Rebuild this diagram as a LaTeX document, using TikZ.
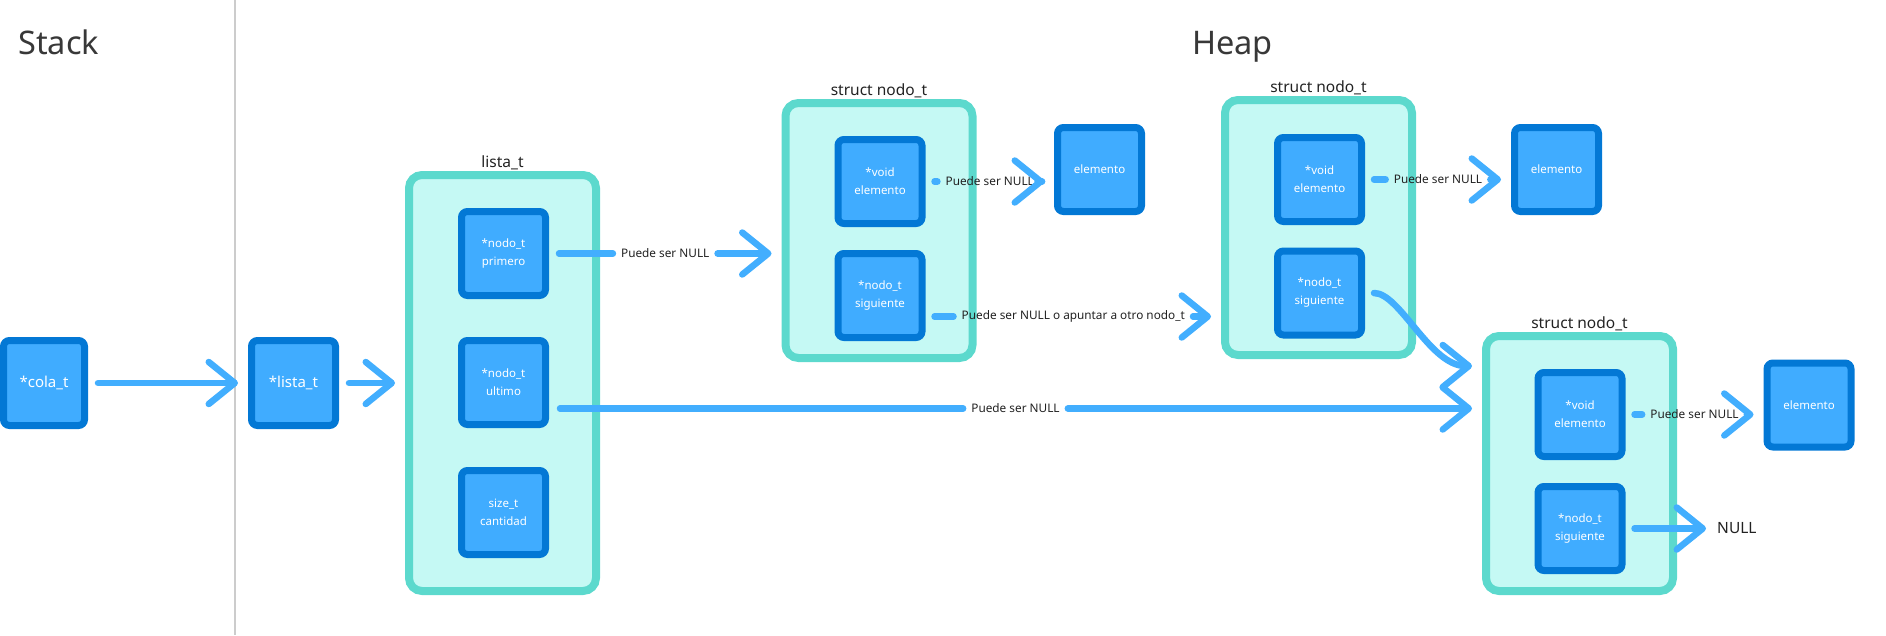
\documentclass[tikz,border=0pt]{standalone}
\usepackage{fontspec}
\setmainfont{Noto Sans}
\usepackage{xcolor}
\usetikzlibrary{arrows.meta,positioning,calc}

\definecolor{fieldborder}{HTML}{0378D5}
\definecolor{fieldfill}{HTML}{40ACFF}
\definecolor{arrowblue}{HTML}{42AEFE}
\definecolor{structborder}{HTML}{5CD9CD}
\definecolor{structfill}{HTML}{C5F9F4}
\definecolor{inktext}{HTML}{222222}

\tikzset{
  field/.style={draw=fieldborder, fill=fieldfill, line width=7pt, rounded corners=6pt,
    text=white, align=center, inner sep=0pt, minimum width=84pt, minimum height=84pt,
    font=\fontsize{11.5}{18}\selectfont},
  structbox/.style={draw=structborder, fill=structfill, line width=8pt, rounded corners=13pt,
    minimum width=187pt, minimum height=255pt},
  title/.style={font=\fontsize{15.5}{18}\selectfont, text=inktext, inner sep=1pt},
  heading/.style={font=\fontsize{32.5}{38}\selectfont, text=inktext!90, inner sep=0pt},
  note/.style={font=\fontsize{11.8}{13}\selectfont, text=inktext, inner xsep=8pt, inner ysep=2pt},
  stub/.style={draw=arrowblue, line width=6.5pt, line cap=round},
  pointer/.style={stub, shorten >=10pt, -{Straight Barb[length=26pt, width=42pt, round]}},
  sepline/.style={draw=black!20, line width=2pt}
}

\begin{document}
\begin{tikzpicture}[x=1pt,y=-1pt]
\useasboundingbox (0,0) rectangle (1886,635);

% Stack | Heap
\draw[sepline] (235,0) -- (235,635);
\node[heading, anchor=base west] (stacktitle) at (18,54) {Stack};
\node[heading, anchor=base west] (heaptitle) at (1192,54) {Heap};

% Stack side
\node[field, minimum width=81pt, minimum height=85pt, font=\fontsize{15}{18}\selectfont] (cola) at (44,383) {*cola\_t};
\node[field, minimum width=84pt, minimum height=85pt, font=\fontsize{15}{18}\selectfont] (listap) at (293.5,383) {*lista\_t};

% lista_t
\node[structbox, minimum height=416pt, label={[title]above:lista\_t}] (lista) at (502.5,383) {};
\node[field] (primero) at (503.5,253.5) {*nodo\_t\\primero};
\node[field] (ultimo) at (503.5,382.5) {*nodo\_t\\ultimo};
\node[field] (cantidad) at (503.5,512.5) {size\_t\\cantidad};

% first nodo_t
\node[structbox, label={[title]above:struct nodo\_t}] (nodo1) at (879,230.5) {};
\node[field] (void1) at (880,181.5) {*void\\elemento};
\node[field] (sig1) at (880,295.5) {*nodo\_t\\siguiente};
\node[field] (elem1) at (1099.5,169.5) {elemento};

% second nodo_t
\node[structbox, label={[title]above:struct nodo\_t}] (nodo2) at (1318.5,227.5) {};
\node[field] (void2) at (1319.5,179.5) {*void\\elemento};
\node[field] (sig2) at (1319.5,293) {*nodo\_t\\siguiente};
\node[field] (elem2) at (1556.5,169.5) {elemento};

% third nodo_t
\node[structbox, label={[title]above:struct nodo\_t}] (nodo3) at (1579.5,463.5) {};
\node[field] (void3) at (1580,414.5) {*void\\elemento};
\node[field] (sig3) at (1580,528.5) {*nodo\_t\\siguiente};
\node[field] (elem3) at (1809,405) {elemento};
\node[title, font=\fontsize{15.5}{18}\selectfont, inner sep=0pt, anchor=west] (nullend) at (1717,528) {NULL};

% Connectors
\draw[pointer, shorten <=10pt] (cola) -- (listap);
\draw[pointer, shorten <=10pt] (listap.east) -- (listap.east -| lista.west);

\path (primero.east) -- (primero.east -| nodo1.west) node[note, pos=.5] (lblprim) {Puede ser NULL};
\draw[stub, shorten <=10pt] (primero.east) -- (lblprim.west);
\draw[pointer] (lblprim.east) -- (lblprim.east -| nodo1.west);

\coordinate (ultout) at ([yshift=-26pt]ultimo.east);
\path (ultout) -- (ultout -| nodo3.west) node[note, pos=.5] (lblult) {Puede ser NULL};
\draw[stub, shorten <=11pt] (ultout) -- (lblult.west);
\draw[pointer] (lblult.east) -- (lblult.east -| nodo3.west);

\path (void1.east) -- (void1.east -| elem1.west) node[note, pos=.5] (lblv1) {Puede ser NULL};
\draw[stub, shorten <=9pt] (void1.east) -- (lblv1.west);
\draw[pointer] (lblv1.east) -- (lblv1.east -| elem1.west);

\coordinate (sig1out) at ([yshift=-21pt]sig1.east);
\path (sig1out) -- (sig1out -| nodo2.west) node[note, pos=.5] (lbls1) {Puede ser NULL o apuntar a otro nodo\_t};
\draw[stub, shorten <=9pt] (sig1out) -- (lbls1.west);
\draw[pointer] (lbls1.east) -- (lbls1.east -| nodo2.west);

\path (void2.east) -- (void2.east -| elem2.west) node[note, pos=.5] (lblv2) {Puede ser NULL};
\draw[stub, shorten <=9pt] (void2.east) -- (lblv2.west);
\draw[pointer] (lblv2.east) -- (lblv2.east -| elem2.west);

\coordinate (n3top) at ([yshift=-34pt]nodo3.north west);
\draw[pointer, shorten <=9pt] (sig2.east) .. controls +(35,0) and +(-52,0) .. (n3top);

\path (void3.east) -- (void3.east -| elem3.west) node[note, pos=.5] (lblv3) {Puede ser NULL};
\draw[stub, shorten <=9pt] (void3.east) -- (lblv3.west);
\draw[pointer] (lblv3.east) -- (lblv3.east -| elem3.west);

\draw[pointer, shorten <=9pt, shorten >=11pt] (sig3.east) -- (sig3.east -| nullend.west);
\end{tikzpicture}
\end{document}
